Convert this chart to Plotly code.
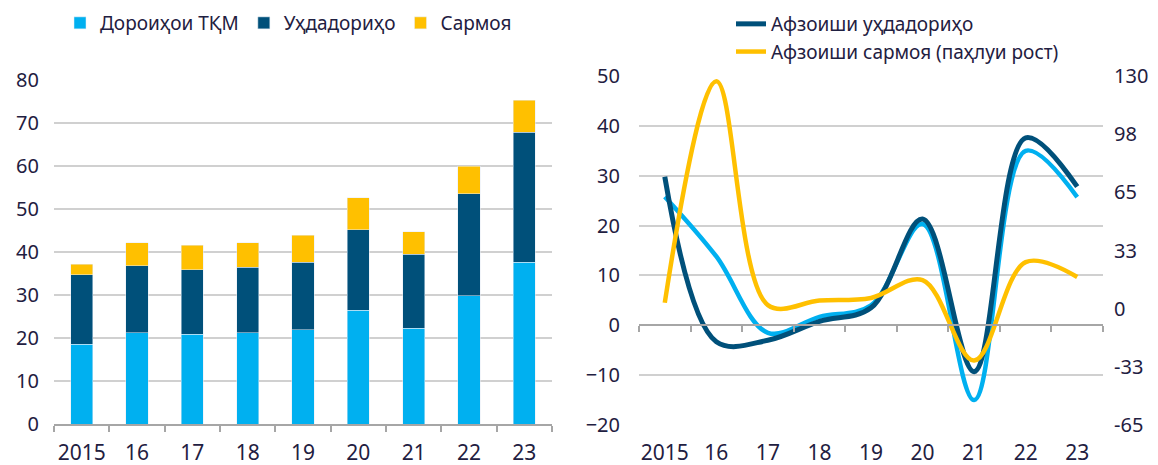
import plotly.graph_objects as go

# ---------------- data ----------------
years = ["2015", "16", "17", "18", "19", "20", "21", "22", "23"]

# left chart: stacked bars
assets_tkm = [18.5, 21.2, 20.9, 21.2, 21.9, 26.4, 22.3, 29.8, 37.6]
liabilities = [16.2, 15.6, 15.0, 15.2, 15.7, 18.8, 17.2, 23.8, 30.3]
capital = [2.5, 5.4, 5.7, 5.8, 6.3, 7.4, 5.2, 6.3, 7.4]

# right chart: growth rates (%)
liab_growth = [29.8, -3.3, -3.0, 0.8, 3.5, 21.3, -9.3, 37.6, 27.8]
assets_growth = [25.8, 13.8, -1.5, 1.7, 4.0, 20.3, -15.0, 35.0, 25.7]
capital_growth = [3.3, 127.0, 2.0, 4.5, 6.0, 16.0, -29.0, 26.0, 17.7]  # right axis

left_ticks = [0, 10, 20, 30, 40, 50, 60, 70, 80]
right_left_ticks = [-20, -10, 0, 10, 20, 30, 40, 50]
right_right_vals = [-65, -32.5, 0, 32.5, 65, 97.5, 130]
right_right_text = ["-65", "-33", "0", "33", "65", "98", "130"]

# ---------------- style ----------------
C_LIGHT = "#00B0F0"
C_DARK = "#00507A"
C_YEL = "#FFC000"
TXT = "#1F2041"
GRID = "#D0D0D0"
AXL = "#A6A6A6"
FONT = "Noto Sans"
FS = 19
TFS = 20

OFF = 8  # page body margin
W, H = 1158 - OFF, 465 - OFF
# plot areas in screen pixels (reference)
L_x0, L_x1, L_ytop, L_ybot = 54, 552, 80, 424
R_x0, R_x1, R_ytop, R_ybot = 639, 1103, 76, 425

def fx(p):
    return (p - OFF) / W

def fy(p):
    return 1 - (p - OFF) / H

fig = go.Figure()

# left: stacked bars
fig.add_trace(go.Bar(x=years, y=assets_tkm, name="Дороиҳои ТҚМ", marker_color=C_LIGHT,
                     xaxis="x", yaxis="y", legend="legend"))
fig.add_trace(go.Bar(x=years, y=liabilities, name="Уҳдадориҳо", marker_color=C_DARK,
                     xaxis="x", yaxis="y", legend="legend"))
fig.add_trace(go.Bar(x=years, y=capital, name="Сармоя", marker_color=C_YEL,
                     xaxis="x", yaxis="y", legend="legend"))

# right: lines
fig.add_trace(go.Scatter(x=years, y=assets_growth, mode="lines", name="Афзоиши дороиҳо",
                         line=dict(color=C_LIGHT, width=4.5, shape="spline", smoothing=1.0),
                         xaxis="x2", yaxis="y2", showlegend=False))
fig.add_trace(go.Scatter(x=years, y=liab_growth, mode="lines", name="Афзоиши уҳдадориҳо",
                         line=dict(color=C_DARK, width=5, shape="spline", smoothing=1.0),
                         xaxis="x2", yaxis="y2", legend="legend2"))
fig.add_trace(go.Scatter(x=years, y=capital_growth, mode="lines",
                         name="Афзоиши сармоя (паҳлуи рост)",
                         line=dict(color=C_YEL, width=4.5, shape="spline", smoothing=1.0),
                         xaxis="x2", yaxis="y3", legend="legend2"))
# helper (invisible) trace so the zero-line category axis is drawn
fig.add_trace(go.Scatter(x=years, y=[None] * len(years), mode="lines", xaxis="x3", yaxis="y2",
                         showlegend=False, hoverinfo="skip"))

ry0, ry1 = fy(R_ybot), fy(R_ytop)
zero_pos = ry0 + (0 - (-20)) / 70 * (ry1 - ry0)

fig.update_layout(
    width=W, height=H,
    margin=dict(l=0, r=0, t=0, b=0, autoexpand=False),
    paper_bgcolor="white", plot_bgcolor="white",
    font=dict(family=FONT, size=FS, color=TXT),
    barmode="stack", bargap=0.6,
    xaxis=dict(domain=[fx(L_x0), fx(L_x1)], anchor="y", type="category",
               showline=True, linecolor=AXL, linewidth=1.5,
               ticks="outside", tickson="boundaries", ticklen=6, tickcolor=AXL, tickwidth=1.5,
               showgrid=False, tickfont=dict(size=TFS + 1), tickangle=0,
               ticklabelstandoff=9, automargin=False),
    yaxis=dict(domain=[fy(L_ybot), fy(L_ytop)], anchor="x", range=[0, 80],
               tickvals=left_ticks, showgrid=True, gridcolor=GRID, gridwidth=1.5,
               zeroline=False, showline=False, ticks="", ticklabelstandoff=14,
               tickfont=dict(size=TFS), automargin=False),
    xaxis2=dict(domain=[fx(R_x0), fx(R_x1)], anchor="y2", type="category",
                categoryarray=years, range=[-0.5, 8.5],
                showline=False, ticks="", showgrid=False, tickfont=dict(size=TFS + 1),
                tickangle=0, ticklabelstandoff=13, automargin=False),
    xaxis3=dict(overlaying="x2", anchor="free", position=zero_pos, type="category",
                categoryarray=years, range=[-0.5, 8.5],
                showline=True, linecolor=AXL, linewidth=1.5,
                ticks="outside", tickson="boundaries", ticklen=6, tickcolor=AXL, tickwidth=1.5,
                showticklabels=False, showgrid=False, automargin=False),
    yaxis2=dict(domain=[ry0, ry1], anchor="x2", range=[-20, 50], tickvals=right_left_ticks,
                showgrid=True, gridcolor=GRID, gridwidth=1.5, zeroline=False,
                showline=False, ticks="", ticklabelstandoff=18, tickfont=dict(size=TFS),
                automargin=False),
    yaxis3=dict(overlaying="y2", side="right", anchor="x2", range=[-65, 130],
                tickvals=right_right_vals, ticktext=right_right_text,
                showgrid=False, zeroline=False, showline=False, ticks="", ticklabelstandoff=10,
                tickfont=dict(size=TFS), automargin=False),
    legend=dict(orientation="h", x=fx(60), y=fy(4), xanchor="left", yanchor="top",
                font=dict(size=FS), bgcolor="rgba(0,0,0,0)", traceorder="normal",
                itemwidth=30),
    legend2=dict(orientation="v", x=fx(731), y=fy(5), xanchor="left", yanchor="top",
                 font=dict(size=FS), bgcolor="rgba(0,0,0,0)", tracegroupgap=0,
                 traceorder="normal"),
    showlegend=True,
)

fig.write_html("out.html")
